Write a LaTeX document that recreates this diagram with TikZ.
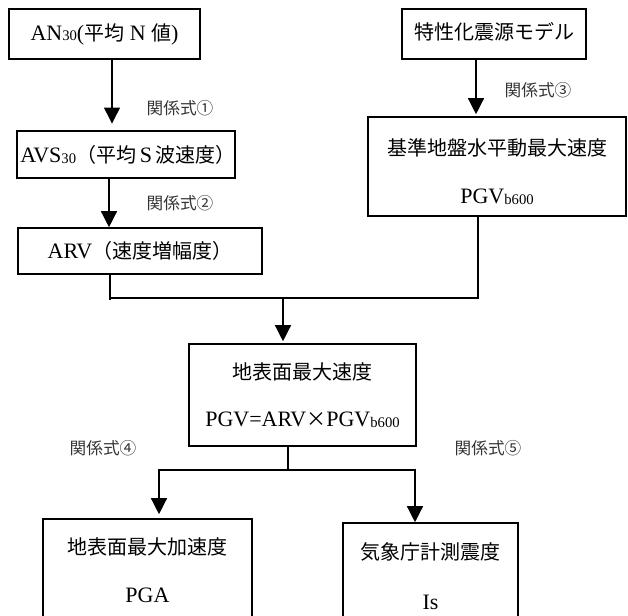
\documentclass[tikz,border=0pt]{standalone}
\usepackage{fontspec}
\setmainfont{Liberation Serif}
\newfontfamily\jp{Noto Sans CJK JP}
\usetikzlibrary{arrows.meta,calc}
\newcommand\lowsm[1]{\raisebox{-0.6pt}{\fontsize{11pt}{11pt}\selectfont #1}}
\newcommand\J[1]{{\fontsize{15pt}{18pt}\jp #1}}
\tikzset{
  box/.style={draw, line width=1.2pt, inner sep=0pt},
  txt/.style={inner sep=0pt, font=\fontsize{16.5pt}{18pt}\selectfont},
  lbl/.style={inner sep=0pt, font=\fontsize{12.5pt}{15pt}\selectfont\jp, text=black!80},
  arr/.style={line width=1pt, -{Triangle[width=12pt,length=12pt]}},
  ln/.style={line width=1pt},
}
\begin{document}
\begin{tikzpicture}[x=0.75pt,y=-0.75pt]
\useasboundingbox (0,0) rectangle (628,615);
\clip (0,0) rectangle (628,615);
% boxes
\node[box, minimum width=143.25pt, minimum height=37.5pt] (box1) at (104.5,34) {};
\node[box, minimum width=163.5pt, minimum height=35.25pt] (box2) at (126,154.5) {};
\node[box, minimum width=183pt, minimum height=34.5pt] (box3) at (140,251) {};
\node[box, minimum width=138pt, minimum height=37.5pt] (box4) at (494,34) {};
\node[box, minimum width=193.5pt, minimum height=74.25pt] (box5) at (497,166.5) {};
\node[box, minimum width=170.25pt, minimum height=76.5pt] (box6) at (302.5,395) {};
\node[box, minimum width=156.75pt, minimum height=120.75pt] (box7) at (147.5,599.5) {};
\node[box, minimum width=131.25pt, minimum height=117.75pt] (box8) at (430.5,601.5) {};
% texts
\node[txt] (t1) at (104.5,34) {AN\lowsm{30}(\J{平均} N \J{値})};
\node[txt] (t2) at (128,155) {AVS\lowsm{30}\J{（平均}\,S\,\J{波速度）}};
\node[txt] (t3) at (140,251) {ARV\J{（速度増幅度）}};
\node[txt] (t4) at (494,32) {\J{特性化震源モデル}};
\node[txt] (t5a) at (497,148) {\J{基準地盤水平動最大速度}};
\node[txt] (t5b) at (497,197) {PGV\lowsm{b600}};
\node[txt] (t6a) at (302.5,372) {\J{地表面最大速度}};
\node[txt] (t6b) at (302.5,420) {PGV=ARV\J{×}PGV\lowsm{b600}};
\node[txt] (t7a) at (147.5,547) {\J{地表面最大加速度}};
\node[txt] (t7b) at (147.5,595) {PGA};
\node[txt] (t8a) at (430.5,552) {\J{気象庁計測震度}};
\node[txt] (t8b) at (430.5,602) {Is};
% labels
\node[lbl] (l1) at (180,108) {関係式①};
\node[lbl] (l2) at (180,203) {関係式②};
\node[lbl] (l3) at (538,90) {関係式③};
\node[lbl] (l4) at (103,448) {関係式④};
\node[lbl] (l5) at (488,448) {関係式⑤};
% connector coordinates
\coordinate (a1) at (112,0);
\coordinate (a2) at (109,0);
\coordinate (a3) at (476,0);
\coordinate (j1) at (110,298);
\coordinate (j2) at (478,298);
\coordinate (m1) at (283,298);
\coordinate (b1) at (288,470);
\coordinate (lft) at (159,470);
\coordinate (rgt) at (415,470);
% connectors
\draw[arr, shorten >=5pt] (box1.south -| a1) -- (box2.north -| a1);
\draw[arr] (box2.south -| a2) -- (box3.north -| a2);
\draw[arr, shorten >=1.5pt] (box4.south -| a3) -- (box5.north -| a3);
\draw[ln] (box3.south -| j1) -- ($(j1)+(0,2)$);
\draw[ln] (j1) -- (j2) -- (box5.south -| j2);
\draw[arr, shorten >=1.5pt] (m1) -- (box6.north -| m1);
\draw[ln] (box6.south -| b1) -- (b1);
\draw[arr, shorten >=3pt] (b1) -- (lft) -- (box7.north -| lft);
\draw[arr] (b1) -- (rgt) -- (box8.north -| rgt);
\end{tikzpicture}
\end{document}
